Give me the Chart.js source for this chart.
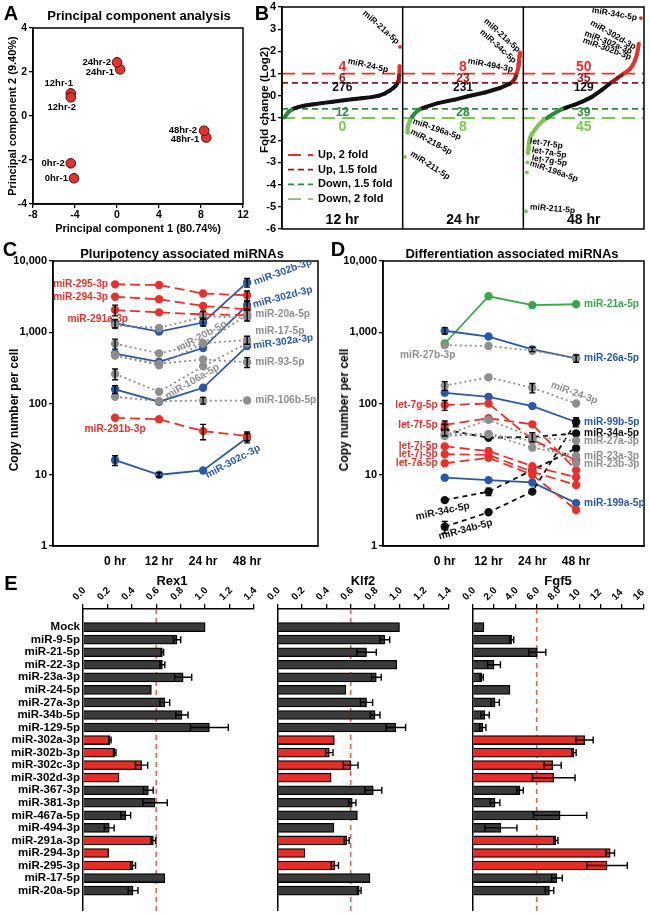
<!DOCTYPE html>
<html>
<head>
<meta charset="utf-8">
<script src="https://cdn.jsdelivr.net/npm/chart.js@4.4.0/dist/chart.umd.min.js"></script>
<style>
  html, body { margin: 0; padding: 0; background: #fff; }
  body { position: relative; width: 650px; height: 915px; overflow: hidden; font-family: "Liberation Sans", Arial, sans-serif; }
  .t { position: absolute; font-weight: bold; white-space: nowrap; color: #000; }
</style>
</head>
<body>
<script>
// ---------- A: PCA ----------
const pcaSamples = ['0hr-1', '0hr-2', '12hr-1', '12hr-2', '24hr-1', '24hr-2', '48hr-1', '48hr-2'];
const pc1 = [-4.1, -4.4, -4.4, -4.4, 0.3, 0.0, 8.5, 8.3];
const pc2 = [-2.83, -2.15, 1.03, 0.85, 2.12, 2.44, -0.98, -0.67];
const pcaXTicks = [-8, -4, 0, 4, 8, 12];
const pcaYTicks = [-4, -2, 0, 2, 4];

// ---------- B: fold change ----------
const foldPanels = ['12 hr', '24 hr', '48 hr'];
const upTwoFold = [4, 8, 50];
const upOneHalfFold = [6, 23, 35];
const unchangedCount = [276, 231, 129];
const downOneHalfFold = [12, 28, 39];
const downTwoFold = [0, 8, 45];
const thresholds = [1, 0.585, -0.585, -1];
const thresholdNames = ['Up, 2 fold', 'Up, 1.5 fold', 'Down, 1.5 fold', 'Down, 2 fold'];
const foldTicks = [-6, -5, -4, -3, -2, -1, 0, 1, 2, 3, 4];
// rank position of sorted miRNAs (12 hr: 0-100, 24 hr: 100-200, 48 hr: 200-300)
const rank12 = [2, 3, 4, 5, 6.5, 8, 11, 14, 19, 25, 33, 42, 50, 58, 66, 74, 80, 85, 89, 92, 94, 95.5, 96.3, 96.8, 97.1, 97.3, 97.5, 97.8];
const fold12 = [-0.98, -0.9, -0.82, -0.75, -0.68, -0.62, -0.55, -0.5, -0.44, -0.39, -0.33, -0.27, -0.21, -0.16, -0.11, -0.06, 0.0, 0.1, 0.22, 0.34, 0.44, 0.55, 0.66, 0.8, 0.95, 1.08, 1.35, 2.2];
const rank24 = [102, 103.6, 104, 104.4, 105.2, 106, 106.9, 107.7, 109.4, 111.8, 114.3, 119.3, 129.2, 143.3, 154.1, 168.2, 180.6, 189, 191.4, 193, 193.9, 194.7, 195.5, 195.9, 196.4, 196.8, 197.2];
const fold24 = [-2.75, -1.65, -1.5, -1.38, -1.25, -1.12, -1.04, -0.95, -0.83, -0.7, -0.6, -0.5, -0.33, -0.17, -0.02, 0.15, 0.35, 0.55, 0.65, 0.78, 0.9, 1.05, 1.2, 1.4, 1.6, 1.8, 1.95];
const rank48 = [202.2, 203, 203.4, 203.8, 204.2, 204.6, 205.5, 207.1, 209.6, 212.1, 215.4, 219.6, 223.7, 227.8, 232, 237, 242.7, 249.4, 256.8, 265.1, 273.4, 278.4, 284.2, 288.3, 290.8, 292.5, 294.1, 295, 295.8, 297.4];
const fold48 = [-5.2, -3.45, -3.0, -2.6, -2.35, -2.1, -1.9, -1.72, -1.53, -1.35, -1.16, -1.0, -0.85, -0.72, -0.6, -0.5, -0.4, -0.25, -0.05, 0.27, 0.62, 0.82, 1.03, 1.2, 1.4, 1.6, 1.85, 2.1, 2.35, 3.5];

// ---------- C / D: copy numbers ----------
const timePoints = ['0 hr', '12 hr', '24 hr', '48 hr'];
const copyTicks = [1, 10, 100, 1000, 10000];

const mir295_3p = [4700, 4600, 3500, 3300];
const mir294_3p = [3150, 2900, 2340, 2100];
const mir291a_3p = [2050, 1900, 1780, 1740];
const mir291b_3p = [63, 60, 41, 35];
const mir302b_3p = [1330, 1020, 1370, 5000];
const mir302d_3p = [500, 385, 600, 2400];
const mir302a_3p = [158, 106, 166, 640];
const mir302c_3p = [16, 10, 11.5, 33];
const mir20a_5p = [1250, 1150, 1650, 1620];
const mir20b_5p = [690, 505, 700, 1750];
const mir17_5p = [470, 345, 700, 780];
const mir93_5p = [480, 360, 415, 380];
const mir106a_5p = [260, 146, 333, 700];
const mir106b_5p = [124, 108, 110, 110];

const mir21a_5p = [695, 3200, 2400, 2470];
const mir26a_5p = [1050, 870, 575, 430];
const mir27b_3p = [660, 640, 550, 440];
const mir24_3p = [178, 233, 166, 100];
const mir99b_5p = [141, 124, 92, 55];
const let7g_5p = [95, 100, 31, 16];
const let7f_5p = [50, 62, 51, 11.6];
const let7i_5p = [25, 21.5, 13.2, 9.2];
const let7j_5p = [19.4, 19, 11, 7.2];
const let7a_5p = [14.5, 17.3, 10, 3.2];
const mir34a_5p = [43, 33, 34, 38];
const mir27a_3p = [36, 59, 34, 30];
const mir23a_3p = [37, 37, 24, 18.5];
const mir23b_3p = [35, 37, 30, 14.5];
const mir199a_5p = [9.1, 8.4, 7.8, 4.0];
const mir34c_5p = [4.4, 5.8, 11.6, 23.5];
const mir34b_5p = [1.86, 2.97, 5.8, 55];

// ---------- E: reporter expression ----------
const eCategories = ['Mock', 'miR-9-5p', 'miR-21-5p', 'miR-22-3p', 'miR-23a-3p', 'miR-24-5p', 'miR-27a-3p', 'miR-34b-5p', 'miR-129-5p',
  'miR-302a-3p', 'miR-302b-3p', 'miR-302c-3p', 'miR-302d-3p', 'miR-367-3p', 'miR-381-3p', 'miR-467a-5p', 'miR-494-3p',
  'miR-291a-3p', 'miR-294-3p', 'miR-295-3p', 'miR-17-5p', 'miR-20a-5p'];
const pluripotencyMirs = ['miR-302a-3p', 'miR-302b-3p', 'miR-302c-3p', 'miR-302d-3p', 'miR-291a-3p', 'miR-294-3p', 'miR-295-3p'];
const rex1 = [1.0, 0.77, 0.65, 0.65, 0.82, 0.56, 0.67, 0.81, 1.035, 0.22, 0.26, 0.48, 0.295, 0.535, 0.59, 0.35, 0.215, 0.576, 0.21, 0.41, 0.67, 0.41];
const rex1Err = [0, 0.03, 0.01, 0.02, 0.07, 0, 0.04, 0.05, 0.155, 0.01, 0.01, 0.05, 0, 0.04, 0.1, 0.04, 0.04, 0.02, 0, 0.02, 0, 0.04];
const klf2 = [1.0, 0.88, 0.73, 0.977, 0.81, 0.56, 0.73, 0.80, 0.97, 0.466, 0.425, 0.60, 0.44, 0.785, 0.613, 0.655, 0.463, 0.567, 0.225, 0.47, 0.758, 0.67];
const klf2Err = [0, 0.04, 0.08, 0, 0.04, 0, 0.05, 0.04, 0.08, 0, 0.03, 0.06, 0, 0.07, 0.03, 0, 0, 0.02, 0, 0.03, 0, 0.015];
const fgf5 = [1.06, 3.65, 6.06, 2.0, 0.84, 3.5, 2.1, 1.15, 0.94, 10.5, 9.5, 7.5, 7.6, 4.44, 2.1, 8.2, 2.65, 7.8, 12.9, 12.6, 7.9, 7.2];
const fgf5Err = [0, 0.2, 0.8, 0.6, 0.15, 0, 0.4, 0.4, 0.3, 0.8, 0.2, 0.8, 2.0, 0.3, 0.45, 2.5, 1.5, 0.2, 0.4, 1.9, 0.5, 0.4];
const fractionTicks = [0, 0.2, 0.4, 0.6, 0.8, 1.0, 1.2, 1.4];
const fgf5Ticks = [0, 2, 4, 6, 8, 10, 12, 14, 16];
const cutoffs = [0.6, 0.6, 6];

// ---------- styles ----------
const RED = '#e8312a', DARKRED = '#8c1d1d', BLUE = '#2b58a6', GRAY = '#8e8e8e', GREEN = '#3aa648', BLACK = '#111';
const DARKGREEN = '#2d8a3e', LIGHTGREEN = '#7cc653';
const lineStyles = {
  red: { color: RED, dash: [10, 5] },
  blue: { color: BLUE, dash: [] },
  gray: { color: GRAY, dash: [2, 3] },
  green: { color: GREEN, dash: [] },
  black: { color: BLACK, dash: [5, 4] }
};

Chart.defaults.font.family = '"Liberation Sans", Arial, Helvetica, sans-serif';
Chart.defaults.font.weight = 'bold';
Chart.defaults.font.size = 11;
Chart.defaults.color = '#000';

// ---------- plugins ----------
const framePlugin = {
  id: 'frame',
  afterDatasetsDraw(chart, args, opts) {
    if (!opts.on) return;
    const { ctx, chartArea: a } = chart;
    ctx.save();
    ctx.strokeStyle = '#000';
    ctx.lineWidth = 1.5;
    ctx.strokeRect(a.left, a.top, a.right - a.left, a.bottom - a.top);
    (opts.splits || []).forEach(v => {
      const x = chart.scales.x.getPixelForValue(v);
      ctx.beginPath(); ctx.moveTo(x, a.top); ctx.lineTo(x, a.bottom); ctx.stroke();
    });
    ctx.restore();
  }
};

const notesPlugin = {
  id: 'notes',
  afterDatasetsDraw(chart, args, opts) {
    const items = opts.items || [];
    const { ctx, scales } = chart;
    items.forEach(n => {
      const px = scales.x.getPixelForValue(n.x) + (n.dx || 0);
      const py = scales.y.getPixelForValue(n.y) + (n.dy || 0);
      ctx.save();
      ctx.translate(px, py);
      ctx.rotate((n.rot || 0) * Math.PI / 180);
      ctx.font = 'bold ' + (n.size || 11) + 'px "Liberation Sans", Arial, sans-serif';
      ctx.fillStyle = n.color || '#000';
      ctx.textAlign = n.align || 'left';
      ctx.textBaseline = 'middle';
      ctx.fillText(n.t, 0, 0);
      ctx.restore();
    });
  }
};

const errorPlugin = {
  id: 'errbars',
  afterDatasetsDraw(chart) {
    const ctx = chart.ctx;
    const horiz = chart.options.indexAxis === 'y';
    chart.data.datasets.forEach((ds, i) => {
      if (!ds.err) return;
      const meta = chart.getDatasetMeta(i);
      const vs = horiz ? chart.scales[meta.xAxisID] : chart.scales[meta.yAxisID];
      meta.data.forEach((el, j) => {
        const e = ds.err[j];
        if (!e) return;
        const p = meta.controller.getParsed(j);
        const v = horiz ? p.x : p.y;
        const lo = vs.getPixelForValue(Math.max(v - e, v * 0.3));
        const hi = vs.getPixelForValue(v + e);
        const c = horiz ? el.y : el.x;
        ctx.save();
        ctx.strokeStyle = '#000';
        ctx.lineWidth = 1.4;
        ctx.beginPath();
        if (horiz) {
          ctx.moveTo(lo, c); ctx.lineTo(hi, c);
          ctx.moveTo(lo, c - 3.5); ctx.lineTo(lo, c + 3.5);
          ctx.moveTo(hi, c - 3.5); ctx.lineTo(hi, c + 3.5);
        } else {
          ctx.moveTo(c, lo); ctx.lineTo(c, hi);
          ctx.moveTo(c - 3, lo); ctx.lineTo(c + 3, lo);
          ctx.moveTo(c - 3, hi); ctx.lineTo(c + 3, hi);
        }
        ctx.stroke();
        ctx.restore();
      });
    });
  }
};

const cutoffPlugin = {
  id: 'cutoff',
  beforeDatasetsDraw(chart, args, opts) {
    if (opts.value === undefined) return;
    const { ctx, chartArea: a } = chart;
    const x = chart.scales.x.getPixelForValue(opts.value);
    ctx.save();
    ctx.strokeStyle = '#e8643f';
    ctx.lineWidth = 1.6;
    ctx.setLineDash([5, 4]);
    ctx.beginPath(); ctx.moveTo(x, a.top); ctx.lineTo(x, a.bottom + 4); ctx.stroke();
    ctx.restore();
  }
};

const foldLegendPlugin = {
  id: 'foldLegend',
  afterDatasetsDraw(chart, args, opts) {
    if (!opts.on) return;
    const { ctx, chartArea: a } = chart;
    const rows = chart.data.datasets.filter(ds => ds.threshold !== undefined);
    rows.forEach((ds, k) => {
      const y = a.bottom - 74 + k * 14.7;
      ctx.save();
      ctx.strokeStyle = ds.borderColor;
      ctx.lineWidth = ds.borderWidth;
      ctx.setLineDash(ds.borderDash);
      ctx.beginPath(); ctx.moveTo(a.left + 6, y); ctx.lineTo(a.left + 31, y); ctx.stroke();
      ctx.setLineDash([]);
      ctx.font = 'bold 11px "Liberation Sans", Arial, sans-serif';
      ctx.fillStyle = '#000';
      ctx.textBaseline = 'middle';
      ctx.fillText(ds.label, a.left + 36, y);
      ctx.restore();
    });
  }
};

// ---------- helpers ----------
function fitArea(options, box, area, sides) {
  const pad = { left: 0, top: 0, right: box.x + box.w - area.r, bottom: 0 };
  const sizes = { left: area.l - box.x, top: area.t - box.y, bottom: box.y + box.h - area.b };
  ['left', 'top', 'bottom'].forEach(side => {
    const id = sides[side];
    if (id) {
      options.scales[id].afterFit = s => {
        if (side === 'left') s.width = sizes.left; else s.height = sizes[side];
        s.paddingLeft = s.paddingRight = s.paddingTop = s.paddingBottom = 0;
      };
    } else {
      pad[side] = sizes[side];
    }
  });
  options.layout = { padding: pad };
}

function makeChart(box, area, sides, config) {
  const c = document.createElement('canvas');
  c.width = box.w; c.height = box.h;
  c.style.cssText = `position:absolute;left:${box.x}px;top:${box.y}px;width:${box.w}px;height:${box.h}px;`;
  document.body.appendChild(c);
  fitArea(config.options, box, area, sides);
  config.options.responsive = false;
  config.options.animation = false;
  config.options.devicePixelRatio = 1;
  config.options.plugins = Object.assign({ legend: { display: false }, tooltip: { enabled: false } }, config.options.plugins);
  config.plugins = [framePlugin, notesPlugin, errorPlugin, cutoffPlugin, foldLegendPlugin];
  return new Chart(c, config);
}

function text(str, x, y, size, rot) {
  const d = document.createElement('div');
  d.className = 't';
  d.textContent = str;
  d.style.left = x + 'px';
  d.style.top = y + 'px';
  d.style.fontSize = size + 'px';
  d.style.transform = `translate(-50%,-50%) rotate(${rot || 0}deg)`;
  document.body.appendChild(d);
}

const tickMarks = { drawOnChartArea: false, drawTicks: true, tickLength: 4, color: '#000', lineWidth: 1.3 };
const axisBorder = { display: true, color: '#000', width: 1.5 };
const fixedTicks = list => s => { s.ticks = list.map(v => ({ value: v })); };

// ---------- A ----------
const pcaNotePos = [[-6, 0, 'right'], [-6, 0, 'right'], [-12, -10, 'center'], [-9, 10, 'center'],
  [-6, 3, 'right'], [-6, 0, 'right'], [-7, 2, 'right'], [-7, 0, 'right']];
makeChart({ x: 0, y: 0, w: 250, h: 222 }, { l: 33, t: 28, r: 243, b: 204 }, { left: 'y', bottom: 'x' }, {
  type: 'scatter',
  data: {
    datasets: [{
      data: pc1.map((v, i) => ({ x: v, y: pc2[i] })),
      backgroundColor: '#e3342b', borderColor: '#4a0d0d', borderWidth: 1, pointRadius: 4.8
    }]
  },
  options: {
    scales: {
      x: { type: 'linear', min: -8, max: 12, afterBuildTicks: fixedTicks(pcaXTicks), grid: tickMarks, border: axisBorder, ticks: { font: { size: 10.5 }, padding: 1 } },
      y: { type: 'linear', min: -4, max: 4, afterBuildTicks: fixedTicks(pcaYTicks), grid: tickMarks, border: axisBorder, ticks: { font: { size: 10.5 }, padding: 2 } }
    },
    plugins: {
      frame: { on: true },
      notes: {
        items: pcaSamples.map((s, i) => ({ t: s, x: pc1[i], y: pc2[i], dx: pcaNotePos[i][0], dy: pcaNotePos[i][1], align: pcaNotePos[i][2], size: 9.5 }))
      }
    }
  }
});

// ---------- B ----------
function foldColor(v) {
  if (v > 1) return RED;
  if (v > 0.585) return DARKRED;
  if (v >= -0.585) return BLACK;
  if (v >= -1) return DARKGREEN;
  return LIGHTGREEN;
}
function foldCurve(ranks, folds) {
  return {
    data: ranks.map((r, i) => ({ x: r, y: folds[i] })),
    borderColor: BLACK, borderWidth: 4, tension: 0,
    pointRadius: 1.9, pointBorderWidth: 0,
    pointBackgroundColor: ctx => foldColor(ctx.raw ? ctx.raw.y : 0),
    segment: {
      borderColor: ctx => {
        const dy = Math.abs(ctx.p1.parsed.y - ctx.p0.parsed.y);
        const dx = Math.abs(ctx.p1.parsed.x - ctx.p0.parsed.x);
        if (dy > 0.3 && dx < 2) return 'rgba(0,0,0,0)';
        return foldColor((ctx.p0.parsed.y + ctx.p1.parsed.y) / 2);
      }
    }
  };
}
const thresholdStyles = [
  { color: RED, dash: [13, 7] }, { color: DARKRED, dash: [6, 4] },
  { color: DARKGREEN, dash: [6, 4] }, { color: LIGHTGREEN, dash: [13, 7] }
];
const foldCountRows = [
  [upTwoFold, 1.3, RED, 14], [upOneHalfFold, 0.77, DARKRED, 12], [unchangedCount, 0.38, BLACK, 12],
  [downOneHalfFold, -0.78, DARKGREEN, 12], [downTwoFold, -1.4, LIGHTGREEN, 14]
];
const foldMirNotes = [
  ['miR-21a-5p', 67.9, 3.77, 42], ['miR-24-5p', 54.7, 1.57, 13],
  ['miR-21a-5p', 168.2, 3.41, 42], ['miR-34c-5p', 164.9, 2.92, 42], ['miR-494-3p', 154.1, 1.57, 11],
  ['miR-196a-5p', 108.5, -1.14, 19], ['miR-218-5p', 106.9, -1.59, 28], ['miR-211-5p', 106.9, -2.58, 33],
  ['miR-34c-5p', 256.8, 3.86, 10], ['miR-302d-3p', 256, 3.32, 30], ['miR-302a-3p', 251, 2.83, 22], ['miR-302b-3p', 249.4, 2.51, 20],
  ['let-7f-5p', 205.5, -2.04, 9], ['let-7a-5p', 207.1, -2.44, 9], ['let-7g-5p', 207.1, -2.8, 9],
  ['miR-196a-5p', 205.5, -3.03, 19], ['miR-211-5p', 205.5, -5.0, 5]
];
const foldNotes = [];
foldPanels.forEach((p, k) => {
  foldNotes.push({ t: p, x: 50 + 100 * k, y: -5.6, align: 'center', size: 14 });
  foldCountRows.forEach(r => foldNotes.push({ t: String(r[0][k]), x: 50 + 100 * k, y: r[1], color: r[2], size: r[3], align: 'center' }));
});
foldMirNotes.forEach(n => foldNotes.push({ t: n[0], x: n[1], y: n[2], rot: n[3], size: 8.5 }));

makeChart({ x: 225, y: 0, w: 425, h: 240 }, { l: 282, t: 7, r: 644, b: 229 }, { left: 'y' }, {
  type: 'line',
  data: {
    datasets: [foldCurve(rank12, fold12), foldCurve(rank24, fold24), foldCurve(rank48, fold48)].concat(
      thresholds.map((t, k) => ({
        label: thresholdNames[k], threshold: t,
        data: [{ x: 0, y: t }, { x: 300, y: t }],
        borderColor: thresholdStyles[k].color, borderDash: thresholdStyles[k].dash, borderWidth: 1.8, pointRadius: 0
      })))
  },
  options: {
    scales: {
      x: { type: 'linear', min: 0, max: 300, display: false },
      y: { type: 'linear', min: -6, max: 4, afterBuildTicks: fixedTicks(foldTicks), grid: tickMarks, border: axisBorder, ticks: { font: { size: 11 }, padding: 2 } }
    },
    plugins: { frame: { on: true, splits: [100, 200] }, notes: { items: foldNotes }, foldLegend: { on: true } }
  }
});

// ---------- C & D ----------
function copySets(series) {
  return series.map(s => {
    const st = lineStyles[s.kind];
    return {
      label: s.name, err: s.err,
      data: s.values.map((v, i) => ({ x: i, y: v })),
      borderColor: st.color, backgroundColor: st.color, pointBackgroundColor: st.color, pointBorderColor: st.color,
      borderDash: st.dash, borderWidth: 1.8, pointRadius: 3.3, tension: 0
    };
  });
}
function copyNotes(series) {
  return series.filter(s => s.note).map(s => {
    const [at, dx, dy, rot, align] = s.note;
    return { t: s.name, x: at, y: s.values[at], dx, dy, rot, align, color: lineStyles[s.kind].color, size: 10.2 };
  });
}
function copyChart(box, area, series, xmin, xmax) {
  makeChart(box, area, { left: 'y', bottom: 'x' }, {
    type: 'line',
    data: { datasets: copySets(series) },
    options: {
      scales: {
        x: { type: 'linear', min: xmin, max: xmax, afterBuildTicks: fixedTicks([0, 1, 2, 3]), grid: { display: false, drawTicks: false }, border: axisBorder,
          ticks: { callback: v => timePoints[v], font: { size: 12 }, padding: 8, autoSkip: false } },
        y: { type: 'logarithmic', min: 1, max: 10000, afterBuildTicks: fixedTicks(copyTicks), grid: tickMarks, border: axisBorder,
          ticks: { callback: v => Number(v).toLocaleString('en-US'), font: { size: 11 }, padding: 2, autoSkip: false } }
      },
      plugins: { frame: { on: true }, notes: { items: copyNotes(series) } }
    }
  });
}

// note: [time index, dx, dy, rotation, align]  (label placement only)
const pluripotencySeries = [
  { name: 'miR-106b-5p', values: mir106b_5p, kind: 'gray', err: [0, 0, 12, 0], note: [3, 8, 0, 0, 'left'] },
  { name: 'miR-106a-5p', values: mir106a_5p, kind: 'gray', err: [45, 0, 0, 0], note: [1, 7, 5, -30, 'left'] },
  { name: 'miR-93-5p', values: mir93_5p, kind: 'gray', err: [0, 0, 0, 60], note: [3, 8, 0, 0, 'left'] },
  { name: 'miR-17-5p', values: mir17_5p, kind: 'gray', err: [0, 0, 0, 100], note: [3, 8, -9, 0, 'left'] },
  { name: 'miR-20b-5p', values: mir20b_5p, kind: 'gray', err: [110, 0, 0, 0], note: [1, 18, -4, -28, 'left'] },
  { name: 'miR-20a-5p', values: mir20a_5p, kind: 'gray', err: [0, 0, 0, 0], note: [3, 8, -3, 0, 'left'] },
  { name: 'miR-291b-3p', values: mir291b_3p, kind: 'red', err: [0, 0, 10, 5], note: [0, 0, 11, 0, 'center'] },
  { name: 'miR-291a-3p', values: mir291a_3p, kind: 'red', err: [350, 0, 200, 300], note: [0, 13, 9, 0, 'right'] },
  { name: 'miR-294-3p', values: mir294_3p, kind: 'red', err: [0, 0, 0, 0], note: [0, -7, 0, 0, 'right'] },
  { name: 'miR-295-3p', values: mir295_3p, kind: 'red', err: [0, 0, 0, 500], note: [0, -7, 0, 0, 'right'] },
  { name: 'miR-302c-3p', values: mir302c_3p, kind: 'blue', err: [2.5, 0.7, 0, 5], note: [3, -41, 38, -28, 'left'] },
  { name: 'miR-302a-3p', values: mir302a_3p, kind: 'blue', err: [20, 0, 0, 0], note: [3, 6, 0, -8, 'left'] },
  { name: 'miR-302d-3p', values: mir302d_3p, kind: 'blue', err: [0, 0, 0, 300], note: [3, 6, 0, -15, 'left'] },
  { name: 'miR-302b-3p', values: mir302b_3p, kind: 'blue', err: [180, 0, 150, 700], note: [3, 7, 0, -20, 'left'] }
];
copyChart({ x: 0, y: 255, w: 330, h: 320 }, { l: 53, t: 261, r: 318, b: 546 }, pluripotencySeries, -1.41, 4.61);

const differentiationSeries = [
  { name: 'miR-27b-3p', values: mir27b_3p, kind: 'gray', err: [0, 0, 0, 0], note: [0, -17, 10, 0, 'center'] },
  { name: 'miR-24-3p', values: mir24_3p, kind: 'gray', err: [25, 0, 25, 0], note: [3, -25, -19, 20, 'left'] },
  { name: 'miR-27a-3p', values: mir27a_3p, kind: 'gray', err: [0, 0, 0, 0], note: [3, 8, 0, 0, 'left'] },
  { name: 'miR-23a-3p', values: mir23a_3p, kind: 'gray', err: [0, 0, 0, 0], note: [3, 8, 0, 0, 'left'] },
  { name: 'miR-23b-3p', values: mir23b_3p, kind: 'gray', err: [0, 0, 0, 0], note: [3, 8, 1, 0, 'left'] },
  { name: 'let-7g-5p', values: let7g_5p, kind: 'red', err: [15, 0, 0, 0], note: [0, -7, 0, 0, 'right'] },
  { name: 'let-7f-5p', values: let7f_5p, kind: 'red', err: [7, 0, 0, 0], note: [0, -7, 0, 0, 'right'] },
  { name: 'let-7i-5p', values: let7i_5p, kind: 'red', err: [0, 0, 0, 0], note: [0, -7, 0, 0, 'right'] },
  { name: 'let-7j-5p', values: let7j_5p, kind: 'red', err: [0, 0, 0, 0], note: [0, -7, 0, 0, 'right'] },
  { name: 'let-7a-5p', values: let7a_5p, kind: 'red', err: [0, 0, 0, 0], note: [0, -7, 0, 0, 'right'] },
  { name: 'miR-34a-5p', values: mir34a_5p, kind: 'black', err: [8, 0, 5, 0], note: [3, 8, 0, 0, 'left'] },
  { name: 'miR-34c-5p', values: mir34c_5p, kind: 'black', err: [0, 0.7, 0, 0], note: [0, -29, 17, -12, 'left'] },
  { name: 'miR-34b-5p', values: mir34b_5p, kind: 'black', err: [0.35, 0, 0, 0], note: [0, -6, 10, -15, 'left'] },
  { name: 'miR-199a-5p', values: mir199a_5p, kind: 'blue', err: [0, 0, 0, 0], note: [3, 8, 0, 0, 'left'] },
  { name: 'miR-99b-5p', values: mir99b_5p, kind: 'blue', err: [0, 0, 0, 8], note: [3, 8, 0, 0, 'left'] },
  { name: 'miR-26a-5p', values: mir26a_5p, kind: 'blue', err: [110, 0, 40, 50], note: [3, 8, 0, 0, 'left'] },
  { name: 'miR-21a-5p', values: mir21a_5p, kind: 'green', err: [0, 0, 0, 0], note: [3, 8, 0, 0, 'left'] }
];
copyChart({ x: 330, y: 255, w: 320, h: 320 }, { l: 383, t: 261, r: 644, b: 546 }, differentiationSeries, -1.41, 4.55);

// ---------- E ----------
function barPanel(box, area, values, errs, ticks, cutoff, showLabels, fmt) {
  makeChart(box, area, { left: 'y', top: 'x' }, {
    type: 'bar',
    data: {
      datasets: [{
        data: values.map((v, i) => ({ x: v, y: i })),
        err: errs,
        backgroundColor: eCategories.map(c => pluripotencyMirs.includes(c) ? '#e52d27' : '#3a3a3a'),
        borderColor: '#000', borderWidth: 1.3, barThickness: 9
      }]
    },
    options: {
      indexAxis: 'y',
      scales: {
        x: { type: 'linear', position: 'top', min: 0, max: ticks[ticks.length - 1], afterBuildTicks: fixedTicks(ticks),
          grid: { drawOnChartArea: false, drawTicks: true, tickLength: 5, color: '#000', lineWidth: 1.3 }, border: axisBorder,
          ticks: { minRotation: 45, maxRotation: 45, autoSkip: false, callback: fmt, font: { size: 10 }, padding: 1 } },
        y: { type: 'linear', reverse: true, min: -0.9, max: 22, afterBuildTicks: fixedTicks(eCategories.map((c, i) => i)),
          grid: { display: false, drawTicks: false }, border: axisBorder,
          ticks: { display: showLabels, autoSkip: false, callback: v => eCategories[v], font: { size: 11.5 }, padding: 3 } }
      },
      plugins: { cutoff: { value: cutoff } }
    }
  });
}
const fracFmt = v => Number(v).toFixed(1);
const fgfFmt = v => (v < 10 ? Number(v).toFixed(1) : String(v));
barPanel({ x: 0, y: 583, w: 262, h: 332 }, { l: 83, t: 609, r: 254, b: 910 }, rex1, rex1Err, fractionTicks, cutoffs[0], true, fracFmt);
barPanel({ x: 264, y: 583, w: 194, h: 332 }, { l: 277.5, t: 609, r: 448.3, b: 910 }, klf2, klf2Err, fractionTicks, cutoffs[1], false, fracFmt);
barPanel({ x: 460, y: 583, w: 190, h: 332 }, { l: 472.7, t: 609, r: 643.3, b: 910 }, fgf5, fgf5Err, fgf5Ticks, cutoffs[2], false, fgfFmt);

// ---------- titles and panel letters ----------
text('A', 11, 13, 20); text('B', 262, 13, 20); text('C', 10, 249, 20); text('D', 338, 249, 20); text('E', 11, 583, 20);
text('Principal component analysis', 139, 15, 13);
text('Principal component 2 (9.40%)', 12, 116, 11, -90);
text('Principal component 1 (80.74%)', 138, 228, 11);
text('Fold change (Log2)', 264, 100, 11.5, -90);
text('Pluripotency associated miRNAs', 182, 253, 13);
text('Differentiation associated miRNAs', 512, 253, 13);
text('Copy number per cell', 14, 410, 12, -90);
text('Copy number per cell', 344, 410, 12, -90);
text('Rex1', 172, 580, 13); text('Klf2', 363, 580, 13); text('Fgf5', 558, 580, 13);
</script>
</body>
</html>
